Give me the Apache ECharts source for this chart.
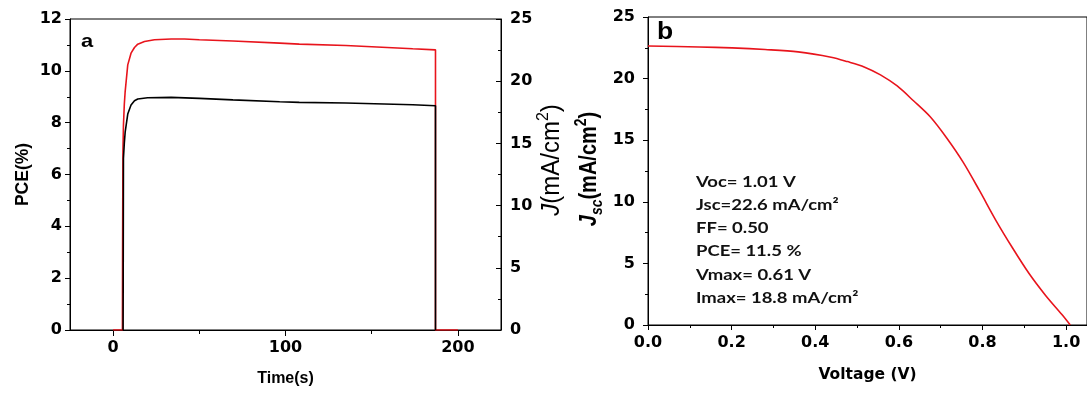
<!DOCTYPE html>
<html>
<head>
<meta charset="utf-8">
<script src="https://cdn.jsdelivr.net/npm/echarts@6/dist/echarts.min.js"></script>
<style>
html,body{margin:0;padding:0;background:#fff;}
#c{width:1087px;height:394px;}
</style>
</head>
<body>
<div id="c"></div>
<script>
// Panel a: stabilized output (time in s)
const timePCE = [0, 5.4, 5.5, 5.7, 6.0, 6.5, 7.0, 8.5, 10.4, 12.4, 14.3, 18.2, 24, 33.7, 41.4, 50, 69.5, 96.6, 108, 135, 150, 173.8, 187, 187, 200];
const pceValues = [0, 0, 3.0, 6.9, 7.9, 8.7, 9.2, 10.23, 10.68, 10.9, 11.03, 11.13, 11.2, 11.23, 11.23, 11.2, 11.15, 11.07, 11.03, 10.98, 10.93, 10.85, 10.81, 0, 0];
const timeJ = [5.8, 6.0, 6.5, 7.0, 8.5, 10.4, 12.4, 14.3, 20, 33.7, 50, 69.5, 96.6, 108, 135, 173.8, 187, 187];
const jValues = [0, 13.8, 15.0, 15.9, 17.36, 18.08, 18.43, 18.57, 18.67, 18.7, 18.62, 18.5, 18.35, 18.3, 18.25, 18.11, 18.03, 0];
// Panel b: J-V curve
const voltage = [0, 0.122, 0.201, 0.280, 0.359, 0.438, 0.477, 0.517, 0.556, 0.596, 0.635, 0.675, 0.714, 0.754, 0.793, 0.832, 0.872, 0.911, 0.951, 0.990, 1.01];
const currentDensity = [22.65, 22.57, 22.49, 22.36, 22.17, 21.74, 21.38, 20.95, 20.3, 19.4, 18.2, 16.9, 15.2, 13.2, 10.9, 8.5, 6.25, 4.2, 2.4, 0.85, 0];
// Tick values
const timeMajorTicks = [0, 100, 200];
const timeMinorTicks = [50, 150];
const voltMajorTicks = [0, 0.2, 0.4, 0.6, 0.8, 1.0];
const voltMinorTicks = [0.1, 0.3, 0.5, 0.7, 0.9];
const annotations = ['Voc= 1.01 V', 'Jsc=22.6 mA/cm\u00b2', 'FF= 0.50', 'PCE= 11.5 %', 'Vmax= 0.61 V', 'Imax= 18.8 mA/cm\u00b2'];

const FONT = 'Liberation Sans';
const TICKFONT = 'DejaVu Sans';
const black = '#000';
const red = '#e8141c';
const lbl = {color: black, fontWeight: 'bold', fontSize: 16, fontFamily: TICKFONT};
const line = {show: true, onZero: false, lineStyle: {color: black, width: 1}};

function pairs(xs, ys){ return xs.map((x, i) => [x, ys[i]]); }

const chart = echarts.init(document.getElementById('c'), null, {renderer: 'canvas'});

const graphics = [
  {type: 'text', x: 81, y: 42, style: {text: 'a', font: 'bold 19px ' + FONT, fill: black, verticalAlign: 'middle'}, scaleX: 1.15},
  {type: 'text', x: 657, y: 33, style: {text: 'b', font: 'bold 23px ' + FONT, fill: black, verticalAlign: 'middle'}, scaleX: 1.15},
  {type: 'text', x: 550, y: 160, rotation: Math.PI / 2, scaleY: 1.05, style: {
    text: '{i|J}{n|(mA/cm}{s|2}{n|)}', align: 'center', verticalAlign: 'middle', fill: black,
    rich: {
      i: {fontStyle: 'italic', fontSize: 24, fontFamily: FONT, lineHeight: 28, verticalAlign: 'bottom'},
      n: {fontSize: 24, fontFamily: FONT, lineHeight: 28, verticalAlign: 'bottom'},
      s: {fontSize: 16, fontFamily: FONT, lineHeight: 17, verticalAlign: 'top'}
    }}},
  {type: 'text', x: 590, y: 169, rotation: Math.PI / 2, scaleY: 1.15, style: {
    text: '{i|J}{b|sc}{n|(mA/cm}{s|2}{n|)}', align: 'center', verticalAlign: 'middle', fill: black,
    rich: {
      i: {fontStyle: 'italic', fontWeight: 'bold', fontSize: 20, fontFamily: FONT, lineHeight: 28, verticalAlign: 'middle'},
      b: {fontStyle: 'italic', fontWeight: 'bold', fontSize: 14, fontFamily: FONT, lineHeight: 16, verticalAlign: 'bottom'},
      n: {fontWeight: 'bold', fontSize: 20, fontFamily: FONT, lineHeight: 28, verticalAlign: 'middle'},
      s: {fontWeight: 'bold', fontSize: 14, fontFamily: FONT, lineHeight: 16, verticalAlign: 'top'}
    }}}
];
annotations.forEach((t, i) => {
  graphics.push({type: 'text', x: 696, y: 181.7 + i * 23.3, scaleX: 1.23, style: {
    text: t, font: 'bold 15px Lato', fill: '#111', verticalAlign: 'middle'}});
});

chart.setOption({
  animation: false,
  grid: [
    {left: 70, top: 19, width: 431, height: 311, show: true, borderColor: black, borderWidth: 1},
    {left: 648, top: 17, right: -5, bottom: 69, show: true, borderColor: black, borderWidth: 1}
  ],
  xAxis: [
    {gridIndex: 0, type: 'value', min: -25, max: 225, position: 'bottom',
      axisLine: line, splitLine: {show: false},
      axisTick: {show: true, length: 6, customValues: timeMajorTicks, lineStyle: {color: black}},
      axisLabel: Object.assign({}, lbl, {margin: 10, customValues: timeMajorTicks}),
      name: 'Time(s)', nameLocation: 'middle', nameGap: 41,
      nameTextStyle: {color: black, fontWeight: 'bold', fontSize: 16, fontFamily: FONT}},
    {gridIndex: 0, type: 'value', min: -25, max: 225, position: 'bottom',
      axisLine: {show: false}, splitLine: {show: false}, axisLabel: {show: false},
      axisTick: {show: true, length: 4, customValues: timeMinorTicks, lineStyle: {color: black}}},
    {gridIndex: 1, type: 'value', min: 0, max: 1.05, position: 'bottom',
      axisLine: line, splitLine: {show: false},
      axisTick: {show: true, length: 5, customValues: voltMajorTicks, lineStyle: {color: black}},
      axisLabel: Object.assign({}, lbl, {margin: 10, customValues: voltMajorTicks, formatter: v => v.toFixed(1)}),
      name: 'Voltage (V)', nameLocation: 'middle', nameGap: 42,
      nameTextStyle: {color: black, fontWeight: 'bold', fontSize: 15.5, fontFamily: TICKFONT}},
    {gridIndex: 1, type: 'value', min: 0, max: 1.05, position: 'bottom',
      axisLine: {show: false}, splitLine: {show: false}, axisLabel: {show: false},
      axisTick: {show: true, length: 3, customValues: voltMinorTicks, lineStyle: {color: black}}}
  ],
  yAxis: [
    {gridIndex: 0, type: 'value', min: 0, max: 12, interval: 2, position: 'left',
      axisLine: line, splitLine: {show: false},
      axisTick: {show: true, length: 5, lineStyle: {color: black}},
      minorTick: {show: true, splitNumber: 2, length: 3, lineStyle: {color: black}},
      minorSplitLine: {show: false},
      axisLabel: Object.assign({}, lbl, {margin: 8}),
      name: 'PCE(%)', nameLocation: 'middle', nameGap: 38, nameRotate: 90,
      nameTextStyle: {color: black, fontWeight: 'bold', fontSize: 17.5, fontFamily: FONT}},
    {gridIndex: 0, type: 'value', min: 0, max: 25, interval: 5, position: 'right',
      axisLine: line, splitLine: {show: false},
      axisTick: {show: true, inside: true, length: 5, lineStyle: {color: black}},
      minorTick: {show: true, splitNumber: 2, length: 3, lineStyle: {color: black}},
      minorSplitLine: {show: false},
      axisLabel: Object.assign({}, lbl, {margin: 9})},
    {gridIndex: 1, type: 'value', min: 0, max: 25, interval: 5, position: 'left',
      axisLine: line, splitLine: {show: false},
      axisTick: {show: true, length: 5, lineStyle: {color: black}},
      minorTick: {show: true, splitNumber: 2, length: 3, lineStyle: {color: black}},
      minorSplitLine: {show: false},
      axisLabel: Object.assign({}, lbl, {margin: 13})}
  ],
  series: [
    {name: 'PCE', type: 'line', xAxisIndex: 0, yAxisIndex: 0, data: pairs(timePCE, pceValues),
      showSymbol: false, lineStyle: {color: red, width: 1.6}, itemStyle: {color: red}, z: 2},
    {name: 'J', type: 'line', xAxisIndex: 0, yAxisIndex: 1, data: pairs(timeJ, jValues),
      showSymbol: false, lineStyle: {color: black, width: 1.6}, itemStyle: {color: black}, z: 3},
    {name: 'JV', type: 'line', xAxisIndex: 2, yAxisIndex: 2, data: pairs(voltage, currentDensity),
      showSymbol: false, smooth: 0.3, lineStyle: {color: red, width: 1.6}, itemStyle: {color: red}}
  ],
  graphic: graphics
});
</script>
</body>
</html>
